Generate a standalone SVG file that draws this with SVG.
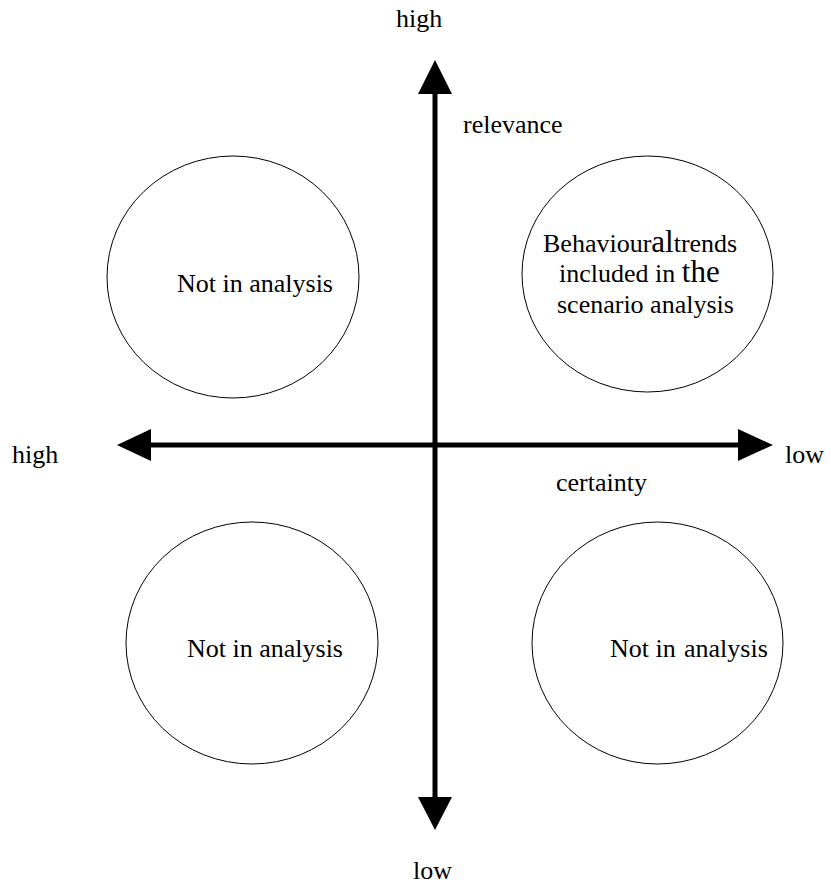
<svg xmlns="http://www.w3.org/2000/svg" width="831" height="888" viewBox="0 0 831 888" font-family="'Liberation Serif', 'Times New Roman', Times, serif">
<style>
text{font-family:'Liberation Serif','Times New Roman',Times,serif;font-size:26px;fill:#000}
.c{fill:#fff;stroke:#000;stroke-width:1}
.ax{stroke:#000;stroke-width:5;fill:none}
.big{font-size:31px}
</style>
<rect width="831" height="888" fill="#fff"/>
<g id="connectors">
<line class="ax" x1="435" y1="92" x2="435" y2="799"/>
<polygon points="435,60 418,94 452,94"/>
<polygon points="435,830 418,797 452,797"/>
<line class="ax" x1="149" y1="445" x2="740" y2="445"/>
<polygon points="117,445 151,429 151,461"/>
<polygon points="773,445 738,429 738,461"/>
</g>
<g id="labels">
<text x="396" y="27">high</text>
<text x="463" y="133">relevance</text>
<text x="12" y="463">high</text>
<text x="785" y="463">low</text>
<text x="556" y="491">certainty</text>
<text x="413" y="879">low</text>
</g>
<g id="node-tl">
<ellipse class="c" cx="233" cy="277" rx="126" ry="121"/>
<text x="177" y="292">Not in analysis</text>
</g>
<g id="node-tr">
<ellipse class="c" cx="647.5" cy="274" rx="125.5" ry="118"/>
<text x="543" y="252">Behaviour<tspan class="big">al</tspan>trends</text>
<text x="559" y="282">included in <tspan class="big">the</tspan></text>
<text x="557" y="313">scenario analysis</text>
</g>
<g id="node-bl">
<ellipse class="c" cx="252" cy="643" rx="126" ry="121"/>
<text x="187" y="657">Not in analysis</text>
</g>
<g id="node-br">
<ellipse class="c" cx="657.5" cy="643" rx="125.5" ry="121"/>
<text x="610" y="657">Not in</text>
<text x="684" y="657">analysis</text>
</g>
</svg>
